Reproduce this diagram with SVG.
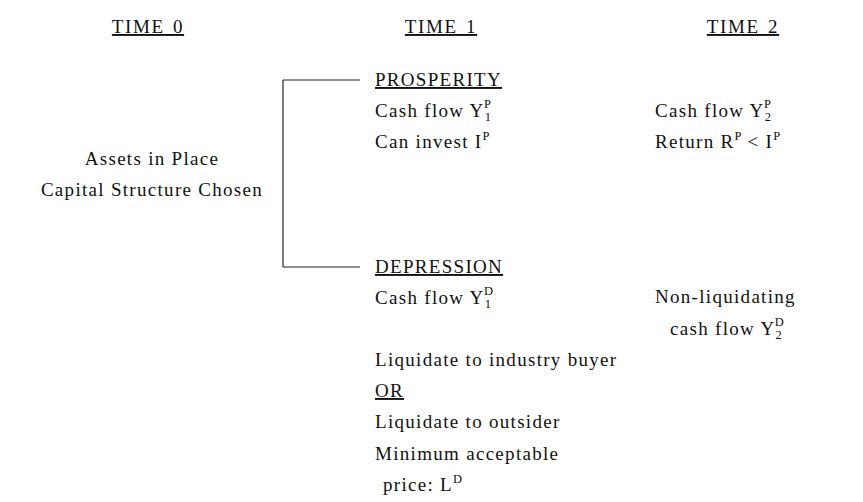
<svg xmlns="http://www.w3.org/2000/svg" width="863" height="502" viewBox="0 0 863 502">
<style>
text{font-family:"Liberation Serif","Times New Roman",serif;font-size:19px;letter-spacing:1.3px;fill:#111}
.h{letter-spacing:1.6px;word-spacing:2px}
.u{text-decoration:underline}
.s{font-size:12.5px;letter-spacing:0}
line{stroke:#222;stroke-width:1.2}
</style>
<rect width="863" height="502" fill="#fff"/>
<g id="headers">
<text class="u h" x="148" y="33" text-anchor="middle">TIME 0</text>
<text class="u h" x="441" y="33" text-anchor="middle">TIME 1</text>
<text class="u h" x="743" y="33" text-anchor="middle">TIME 2</text>
</g>
<g id="time0">
<text x="152" y="165" text-anchor="middle">Assets in Place</text>
<text x="152" y="196" text-anchor="middle">Capital Structure Chosen</text>
</g>
<g id="connectors">
<line x1="283" y1="80" x2="283" y2="267"/>
<line x1="283" y1="80" x2="360" y2="80"/>
<line x1="283" y1="267" x2="360" y2="267"/>
</g>
<g id="prosperity">
<text class="u" x="375" y="86">PROSPERITY</text>
<text x="375" y="117">Cash flow Y<tspan class="s" dy="4">1</tspan><tspan class="s" dx="-7" dy="-13">P</tspan></text>
<text x="375" y="148">Can invest I<tspan class="s" dy="-8">P</tspan></text>
<text x="655" y="117">Cash flow Y<tspan class="s" dy="4">2</tspan><tspan class="s" dx="-7" dy="-13">P</tspan></text>
<text x="655" y="148">Return R<tspan class="s" dy="-8">P</tspan><tspan dy="8"> &lt; I</tspan><tspan class="s" dy="-8">P</tspan></text>
</g>
<g id="depression">
<text class="u" x="375" y="273">DEPRESSION</text>
<text x="375" y="304">Cash flow Y<tspan class="s" dy="4">1</tspan><tspan class="s" dx="-7" dy="-13">D</tspan></text>
<text x="655" y="303">Non-liquidating</text>
<text x="670" y="335">cash flow Y<tspan class="s" dy="4">2</tspan><tspan class="s" dx="-7" dy="-13">D</tspan></text>
<text x="375" y="366">Liquidate to industry buyer</text>
<text class="u" x="375" y="397">OR</text>
<text x="375" y="428">Liquidate to outsider</text>
<text x="375" y="460">Minimum acceptable</text>
<text x="383" y="491">price: L<tspan class="s" dy="-8">D</tspan></text>
</g>
</svg>
